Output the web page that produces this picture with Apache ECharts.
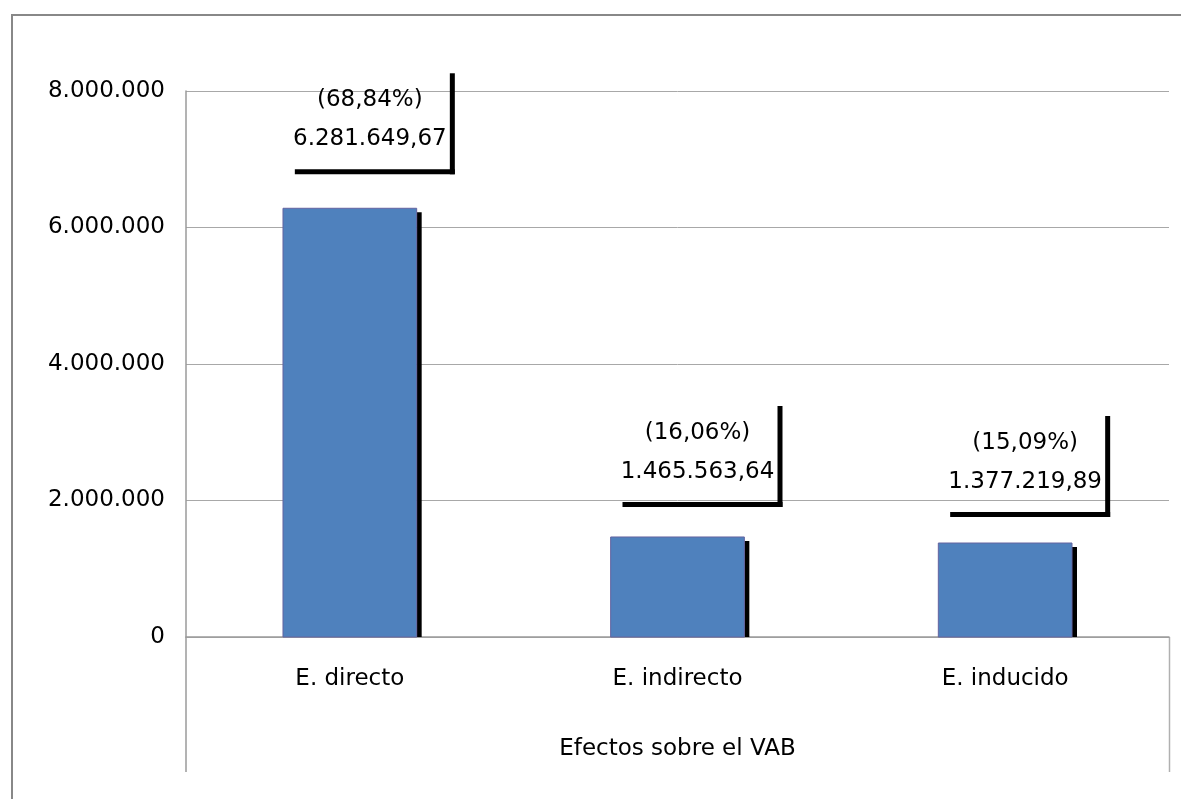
<!DOCTYPE html>
<html>
<head>
<meta charset="utf-8">
<title>Efectos sobre el VAB</title>
<script src="https://cdn.jsdelivr.net/npm/echarts@6/dist/echarts.min.js"></script>
<style>
  html, body { margin: 0; padding: 0; background: #fff; }
  #chart { width: 1181px; height: 799px; }
</style>
</head>
<body>
<div id="chart"></div>
<script>
// Effects on gross value added (VAB), split by type of effect
const categories = ['E. directo', 'E. indirecto', 'E. inducido'];
const values = [6281649.67, 1465563.64, 1377219.89];
const shares = [68.84, 16.06, 15.09];
const axisName = 'Efectos sobre el VAB';
const yMin = 0;
const yMax = 8000000;
const yStep = 2000000;

const FONT = 'DejaVu Sans';

// Spanish number format: "." for thousands, "," for decimals
function fmt(v, decimals) {
  const parts = v.toFixed(decimals).split('.');
  const int = parts[0].replace(/\B(?=(\d{3})+(?!\d))/g, '.');
  return parts.length > 1 ? int + ',' + parts[1] : int;
}

// how far each label box sits above its bar (px)
const labelLift = [39, 35, 31];

const chart = echarts.init(document.getElementById('chart'), null, { renderer: 'canvas' });

const GRID = { left: 186, right: 12, top: 91, bottom: 162 };

function renderBar(params, api) {
  const top = api.coord([api.value(0), api.value(1)]);
  const base = api.coord([api.value(0), 0]);
  const band = api.size([1, 0])[0];
  const w = band * 0.408;
  const x0 = top[0] - w / 2;
  const h = base[1] - top[1];
  return {
    type: 'group',
    children: [
      { // drop shadow on the right side
        type: 'rect',
        shape: { x: x0 + w, y: top[1] + 4, width: 5, height: h - 4 },
        style: { fill: '#000' }
      },
      {
        type: 'rect',
        shape: { x: x0, y: top[1], width: w, height: h },
        style: { fill: '#4f81bd', stroke: '#6464a0', lineWidth: 1 }
      }
    ]
  };
}

function renderLabel(params, api) {
  const idx = params.dataIndex;
  const top = api.coord([api.value(0), api.value(1)]);
  const boxW = 160, boxH = 101, th = 5;
  const cx = top[0] + 20;
  const bottom = top[1] - labelLift[idx];
  const left = cx - boxW / 2;
  const boxTop = bottom - boxH;
  const textStyle = {
    fill: '#000', font: '23px "' + FONT + '"',
    align: 'center', verticalAlign: 'middle'
  };
  return {
    type: 'group',
    children: [
      { type: 'rect', shape: { x: left + boxW, y: boxTop + 5, width: th, height: boxH }, style: { fill: '#000' } },
      { type: 'rect', shape: { x: left + 5, y: bottom, width: boxW, height: th }, style: { fill: '#000' } },
      { type: 'text', style: Object.assign({ x: cx, y: boxTop + 32, text: '(' + fmt(shares[idx], 2) + '%)' }, textStyle) },
      { type: 'text', style: Object.assign({ x: cx, y: boxTop + 71, text: fmt(values[idx], 2) }, textStyle) }
    ]
  };
}

const barData = categories.map((c, i) => [i, values[i]]);

const option = {
  backgroundColor: '#fff',
  animation: false,
  grid: GRID,
  xAxis: {
    type: 'category',
    data: categories,
    boundaryGap: true,
    name: axisName,
    nameLocation: 'middle',
    nameGap: 101,
    nameTextStyle: { fontFamily: FONT, fontSize: 23, color: '#000' },
    axisLine: { show: true, lineStyle: { color: '#9a9a9a', width: 1.5 } },
    axisTick: { show: false },
    axisLabel: { fontFamily: FONT, fontSize: 23, color: '#000', margin: 31 },
    splitLine: { show: false }
  },
  yAxis: {
    type: 'value',
    min: yMin,
    max: yMax,
    interval: yStep,
    axisLine: { show: true, lineStyle: { color: '#9a9a9a', width: 1.5 } },
    axisTick: { show: false },
    axisLabel: {
      fontFamily: FONT, fontSize: 23, color: '#000', margin: 21,
      formatter: v => fmt(v, 0)
    },
    splitLine: { show: true, lineStyle: { color: '#a8a8a8', width: 1 } }
  },
  graphic: [
    { // chart frame
      type: 'rect', silent: true, z: -1,
      shape: { x: 12, y: 15, width: 1200, height: 820 },
      style: { fill: 'none', stroke: '#888', lineWidth: 2 }
    },
    { // category area: left edge continues below the axis
      type: 'line', silent: true,
      shape: { x1: 186, y1: 637, x2: 186, y2: 772 },
      style: { stroke: '#9a9a9a', lineWidth: 1.5 }
    },
    { // category area: right edge
      type: 'line', silent: true,
      shape: { x1: 1169.5, y1: 637, x2: 1169.5, y2: 772 },
      style: { stroke: '#b0b0b0', lineWidth: 1.5 }
    }
  ],
  series: [
    {
      type: 'custom',
      renderItem: renderBar,
      data: barData,
      encode: { x: 0, y: 1 },
      clip: false,
      z: 2
    },
    {
      type: 'custom',
      renderItem: renderLabel,
      data: barData,
      encode: { x: 0, y: 1 },
      clip: false,
      z: 3
    }
  ]
};

chart.setOption(option);
</script>
</body>
</html>
